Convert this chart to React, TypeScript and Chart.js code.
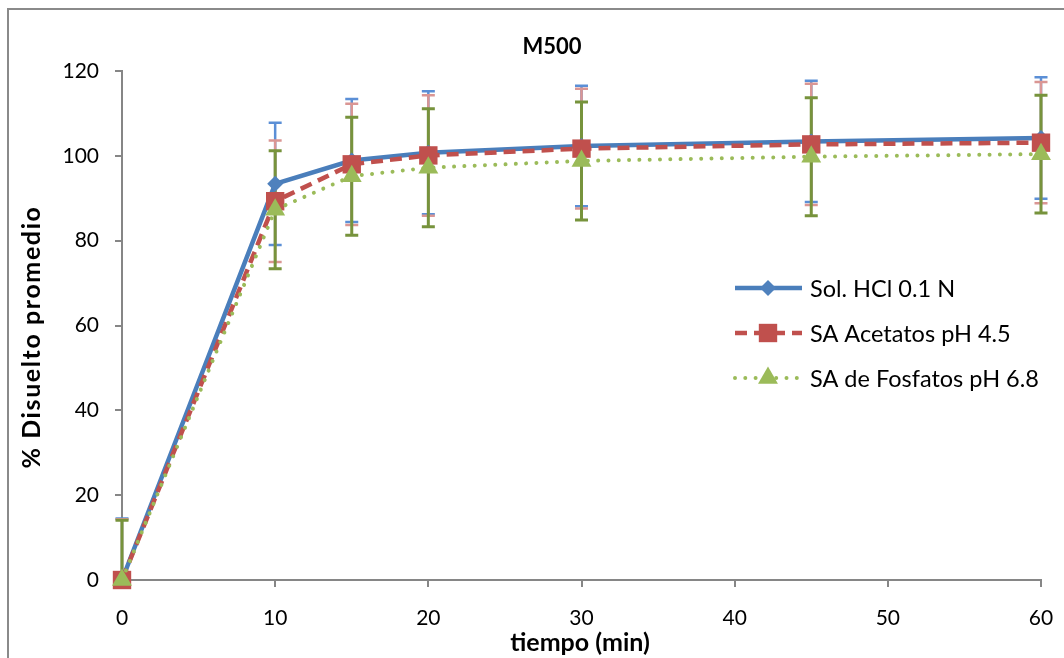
import React, { useEffect, useRef } from "react";
import { Chart, registerables } from "chart.js";

Chart.register(...registerables);

const tiempos = [0, 10, 15, 20, 30, 45, 60];
const hcl = [0, 93.4, 98.9, 100.7, 102.3, 103.4, 104.2];
const acetatos = [0, 89.3, 98.0, 100.1, 101.7, 102.7, 103.1];
const fosfatos = [0, 87.3, 95.2, 97.2, 98.8, 99.8, 100.4];
const errHcl = [14.5, 14.4, 14.5, 14.5, 14.2, 14.3, 14.3];
const errAcetatos = [14.3, 14.3, 14.3, 14.2, 14.1, 14.3, 14.3];
const errFosfatos = [14.1, 13.9, 13.9, 13.9, 13.9, 13.9, 13.9];
const legendLabels = ["Sol. HCl 0.1 N", "SA Acetatos pH 4.5", "SA de Fosfatos pH 6.8"];
const xTicks = [0, 10, 20, 30, 40, 50, 60];
const yTicks = [0, 20, 40, 60, 80, 100, 120];

const FONT = "Lato, 'Open Sans', sans-serif";

const seriesStyle = [
  { line: "#4A7EBB", marker: "#4F81BD", err: "#5B8FD6", errW: 2.5, dash: [] as number[], cap: "butt", style: "rectRot", r: 8, lw: 4.5 },
  { line: "#C0504D", marker: "#C0504D", err: "#DA9694", errW: 2.5, dash: [12, 7], cap: "butt", style: "rect", r: 13, lw: 4.5 },
  { line: "#9BBB59", marker: "#9BBB59", err: "#77933C", errW: 3, dash: [0.001, 10.3], cap: "round", style: "triangle", r: 11.5, lw: 4 },
];

function drawMarker(ctx: CanvasRenderingContext2D, style: string, x: number, y: number, r: number, color: string) {
  ctx.save();
  ctx.fillStyle = color;
  ctx.beginPath();
  if (style === "rectRot") {
    ctx.moveTo(x, y - r);
    ctx.lineTo(x + r, y);
    ctx.lineTo(x, y + r);
    ctx.lineTo(x - r, y);
  } else if (style === "rect") {
    const s = r * Math.SQRT1_2;
    ctx.rect(x - s, y - s, 2 * s, 2 * s);
  } else {
    ctx.moveTo(x, y - r);
    ctx.lineTo(x + r * Math.sin((2 * Math.PI) / 3), y - r * Math.cos((2 * Math.PI) / 3));
    ctx.lineTo(x + r * Math.sin((4 * Math.PI) / 3), y - r * Math.cos((4 * Math.PI) / 3));
  }
  ctx.closePath();
  ctx.fill();
  ctx.restore();
}

const errorBarsPlugin = {
  id: "errorBars",
  beforeDatasetsDraw(chart: any) {
    const { ctx, chartArea, scales } = chart;
    const x = scales.x;
    const y = scales.y;
    const sets = [
      { v: hcl, e: errHcl },
      { v: acetatos, e: errAcetatos },
      { v: fosfatos, e: errFosfatos },
    ];
    ctx.save();
    ctx.beginPath();
    ctx.rect(0, 0, chart.width, chartArea.bottom);
    ctx.clip();
    sets.forEach((s, i) => {
      const st = seriesStyle[i];
      ctx.strokeStyle = st.err;
      ctx.lineWidth = st.errW;
      ctx.setLineDash([]);
      tiempos.forEach((t, j) => {
        const px = x.getPixelForValue(t);
        const top = y.getPixelForValue(s.v[j] + s.e[j]);
        const bot = y.getPixelForValue(s.v[j] - s.e[j]);
        ctx.beginPath();
        ctx.moveTo(px, top);
        ctx.lineTo(px, bot);
        ctx.moveTo(px - 6.5, top);
        ctx.lineTo(px + 6.5, top);
        ctx.moveTo(px - 6.5, bot);
        ctx.lineTo(px + 6.5, bot);
        ctx.stroke();
      });
    });
    ctx.restore();
  },
  afterDraw(chart: any) {
    const { ctx } = chart;
    ctx.save();
    // outer border
    ctx.strokeStyle = "#8A8A8A";
    ctx.lineWidth = 2;
    ctx.beginPath();
    ctx.moveTo(8, chart.height + 5);
    ctx.lineTo(8, 9);
    ctx.lineTo(chart.width + 5, 9);
    ctx.stroke();

    // title
    ctx.fillStyle = "#000";
    ctx.textAlign = "center";
    ctx.textBaseline = "middle";
    ctx.font = `bold 22px ${FONT}`;
    ctx.fillText("M500", 552, 47);

    // axis titles
    ctx.font = `bold 25px ${FONT}`;
    ctx.fillText("tiempo (min)", 580, 643);
    ctx.save();
    ctx.translate(32, 337);
    ctx.rotate(-Math.PI / 2);
    (ctx as any).letterSpacing = "1.6px";
    ctx.fillText("% Disuelto promedio", 0, 0);
    ctx.restore();

    // legend
    const ys = [288, 333, 378];
    ctx.font = `23.5px ${FONT}`;
    ctx.textAlign = "left";
    legendLabels.forEach((lab, i) => {
      const st = seriesStyle[i];
      const yy = ys[i];
      ctx.save();
      ctx.strokeStyle = st.line;
      ctx.lineWidth = st.lw;
      ctx.lineCap = st.cap as CanvasLineCap;
      ctx.setLineDash(st.dash);
      ctx.beginPath();
      ctx.moveTo(735, yy);
      ctx.lineTo(802, yy);
      ctx.stroke();
      ctx.restore();
      drawMarker(ctx, st.style, 768, yy, st.r, st.marker);
      ctx.fillStyle = "#000";
      ctx.fillText(lab, 810, yy + 1);
    });
    ctx.restore();
  },
};

export default function App() {
  const ref = useRef<HTMLCanvasElement | null>(null);
  useEffect(() => {
    if (!ref.current) return;
    const mk = (vals: number[], i: number, label: string, order: number) => {
      const st = seriesStyle[i];
      return {
        label,
        data: tiempos.map((t, j) => ({ x: t, y: vals[j] })),
        borderColor: st.line,
        backgroundColor: st.marker,
        borderWidth: st.lw,
        borderDash: st.dash,
        borderCapStyle: st.cap,
        pointStyle: st.style,
        pointRadius: st.r,
        pointBorderWidth: 0,
        pointBackgroundColor: st.marker,
        pointBorderColor: st.marker,
        tension: 0,
        fill: false,
        order,
        clip: false as any,
      };
    };
    const chart = new Chart(ref.current, {
      type: "line",
      data: {
        datasets: [
          mk(hcl, 0, legendLabels[0], 3),
          mk(acetatos, 1, legendLabels[1], 2),
          mk(fosfatos, 2, legendLabels[2], 1),
        ] as any,
      },
      options: {
        responsive: false,
        animation: false,
        layout: { padding: { left: 0, top: 71, right: 23, bottom: 0 } },
        plugins: { legend: { display: false }, tooltip: { enabled: false }, title: { display: false } },
        scales: {
          x: {
            type: "linear",
            min: 0,
            max: 60,
            afterFit: (s: any) => { s.height = 78; s.paddingLeft = 0; s.paddingRight = 0; },
            afterBuildTicks: (s: any) => { s.ticks = xTicks.map((v) => ({ value: v })); },
            grid: { drawOnChartArea: false, drawTicks: true, tickLength: 7, color: "#868686", lineWidth: 2 },
            border: { display: true, color: "#868686", width: 2 },
            ticks: { color: "#000", font: { family: FONT, size: 21 }, padding: 19, maxRotation: 0 },
          },
          y: {
            type: "linear",
            min: 0,
            max: 120,
            afterFit: (s: any) => { s.width = 122; s.paddingTop = 0; s.paddingBottom = 0; },
            afterBuildTicks: (s: any) => { s.ticks = yTicks.map((v) => ({ value: v })); },
            grid: { drawOnChartArea: false, drawTicks: true, tickLength: 7, color: "#868686", lineWidth: 2 },
            border: { display: true, color: "#868686", width: 2 },
            ticks: { color: "#000", font: { family: FONT, size: 21 }, padding: 16 },
          },
        },
      } as any,
      plugins: [errorBarsPlugin],
    });
    return () => chart.destroy();
  }, []);
  return (
    <div style={{ position: "fixed", left: 0, top: 0, width: 1064, height: 658, background: "#fff" }}>
      <canvas ref={ref} width={1064} height={658} style={{ display: "block" }} />
    </div>
  );
}
